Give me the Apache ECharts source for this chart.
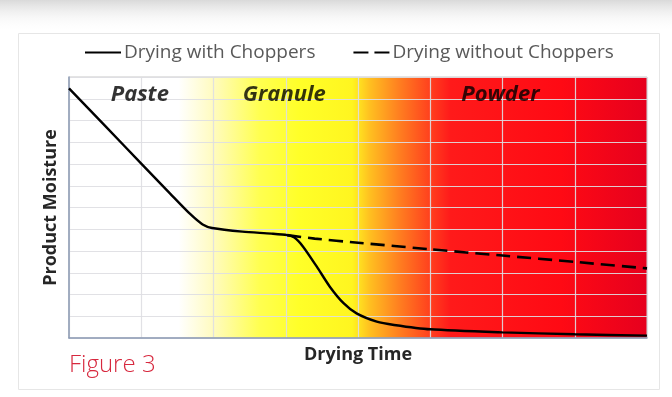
<!DOCTYPE html>
<html>
<head>
<meta charset="utf-8">
<script src="https://cdn.jsdelivr.net/npm/echarts@6/dist/echarts.min.js"></script>
<style>
  html, body { margin: 0; padding: 0; background: #fff; }
  #chart { width: 672px; height: 397px; }
</style>
</head>
<body>
<div id="chart"></div>
<script>
// drying curves (x = drying time, y = moisture)
var timeWith = [0, 0.5, 1.0, 1.4, 1.68, 1.85, 1.98, 2.4, 2.8, 3.02, 3.12, 3.24, 3.43, 3.61, 3.8, 3.98, 4.26, 4.5, 5.0, 6.0, 7.0, 8.0];
var moistureWith = [11.48, 9.75, 8.02, 6.64, 5.69, 5.22, 5.06, 4.89, 4.8, 4.73, 4.62, 4.2, 3.28, 2.36, 1.6, 1.13, 0.75, 0.6, 0.4, 0.26, 0.17, 0.11];
var timeWithout = [3.02, 3.4, 4.0, 5.0, 6.0, 7.0, 8.0];
var moistureWithout = [4.73, 4.57, 4.38, 4.08, 3.79, 3.5, 3.2];

var seriesNames = ['Drying with Choppers', 'Drying without Choppers'];
var phaseNames = ['Paste', 'Granule', 'Powder'];
var phaseX = [0.98, 2.98, 5.97];
var phaseY = [11.17, 11.17, 11.17];

function pairs(xs, ys) {
  return xs.map(function (x, i) { return [x, ys[i]]; });
}

var dom = document.getElementById('chart');
var myChart = echarts.init(dom);

// white -> yellow -> orange -> red background
var bg = new echarts.graphic.LinearGradient(0, 0, 1, 0, [
  { offset: 0, color: '#ffffff' },
  { offset: 0.19, color: '#ffffff' },
  { offset: 0.25, color: '#fffbc0' },
  { offset: 0.33, color: '#ffff50' },
  { offset: 0.40, color: '#ffff28' },
  { offset: 0.49, color: '#fff520' },
  { offset: 0.52, color: '#ffc020' },
  { offset: 0.57, color: '#ff8020' },
  { offset: 0.63, color: '#ff3a1e' },
  { offset: 0.66, color: '#ff1a1a' },
  { offset: 0.85, color: '#ff0a14' },
  { offset: 1, color: '#e6001e' }
]);

var option = {
  backgroundColor: '#ffffff',
  animation: false,
  title: {
    text: 'Figure 3',
    left: 64,
    top: 348,
    textStyle: {
      color: '#d7283e',
      fontSize: 24,
      fontWeight: 300,
      fontFamily: 'Open Sans'
    }
  },
  graphic: [
    {
      type: 'rect',
      shape: { x: 0, y: 0, width: 672, height: 32 },
      style: {
        fill: new echarts.graphic.LinearGradient(0, 0, 0, 1, [
          { offset: 0, color: 'rgba(205,205,205,0.75)' },
          { offset: 1, color: 'rgba(255,255,255,0)' }
        ])
      },
      silent: true
    },
    {
      type: 'rect',
      shape: { x: 18.5, y: 33.5, width: 641, height: 356 },
      style: { fill: 'none', stroke: '#e6e6e6', lineWidth: 1 },
      silent: true
    }
  ],
  legend: {
    left: 80,
    top: 38,
    itemWidth: 36,
    itemHeight: 2,
    itemGap: 38,
    symbolKeepAspect: false,
    textStyle: {
      color: '#595959',
      fontSize: 19,
      fontFamily: 'Open Sans',
      padding: [0, 0, 0, -2]
    },
    data: [
      { name: seriesNames[0], icon: 'path://M0,0H36V2H0Z' },
      { name: seriesNames[1], icon: 'path://M0,0H15V2H0Z M21,0H36V2H21Z' }
    ]
  },
  grid: {
    left: 69,
    top: 77,
    right: 25,
    bottom: 59,
    show: true,
    backgroundColor: bg,
    borderColor: '#c9c9c9',
    borderWidth: 1
  },
  xAxis: {
    type: 'value',
    min: 0,
    max: 8,
    interval: 1,
    name: 'Drying Time',
    nameLocation: 'middle',
    nameGap: 8,
    nameTextStyle: {
      color: '#262626',
      fontSize: 18,
      fontWeight: 'bold',
      fontFamily: 'Open Sans'
    },
    axisLine: { lineStyle: { color: '#8c9bb5', width: 1.5 } },
    axisTick: { show: false },
    axisLabel: { show: false },
    splitLine: { lineStyle: { color: 'rgba(222,222,226,0.9)', width: 1.2 } }
  },
  yAxis: {
    type: 'value',
    min: 0,
    max: 12,
    interval: 1,
    name: 'Product Moisture',
    nameLocation: 'middle',
    nameGap: 9,
    nameTextStyle: {
      color: '#262626',
      fontSize: 18,
      fontWeight: 'bold',
      fontFamily: 'Open Sans'
    },
    axisLine: { show: true, lineStyle: { color: '#8c9bb5', width: 1.5 } },
    axisTick: { show: false },
    axisLabel: { show: false },
    splitLine: { lineStyle: { color: 'rgba(222,222,226,0.9)', width: 1.2 } }
  },
  series: [
    {
      name: seriesNames[0],
      type: 'line',
      symbol: 'none',
      smooth: 0.25,
      color: '#000000',
      lineStyle: { color: '#000000', width: 2.4 },
      data: pairs(timeWith, moistureWith),
      z: 3
    },
    {
      name: seriesNames[1],
      type: 'line',
      symbol: 'none',
      smooth: 0.2,
      color: '#000000',
      lineStyle: { color: '#000000', width: 2.6, type: [14, 7] },
      data: pairs(timeWithout, moistureWithout),
      z: 3
    },
    {
      // phase labels across the top of the plot
      name: 'phases',
      type: 'scatter',
      symbolSize: 0,
      silent: true,
      label: {
        show: true,
        position: 'inside',
        formatter: function (p) { return p.data[2]; },
        color: '#000000',
        fontSize: 22,
        fontWeight: 'bold',
        fontStyle: 'italic',
        fontFamily: 'Open Sans'
      },
      data: phaseNames.map(function (n, i) { return [phaseX[i], phaseY[i], n]; }),
      z: 4
    }
  ]
};

myChart.setOption(option, true);
</script>
</body>
</html>
